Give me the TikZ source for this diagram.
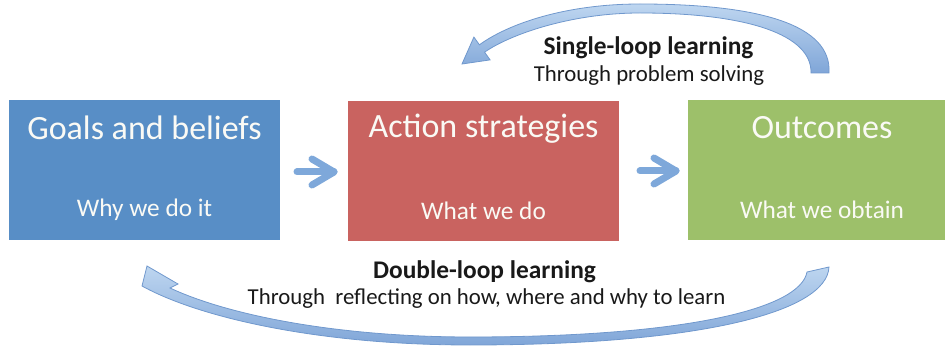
\documentclass[tikz,border=0pt]{standalone}
\usepackage{fontspec}
\setmainfont{Carlito}
\usetikzlibrary{calc}
\definecolor{bluebox}{RGB}{88,142,198}
\definecolor{redbox}{RGB}{201,99,96}
\definecolor{greenbox}{RGB}{157,192,106}
\definecolor{smallarr}{RGB}{126,168,218}
\definecolor{arrline}{RGB}{112,152,205}
\definecolor{arrlight}{RGB}{190,214,240}
\definecolor{arrdark}{RGB}{128,166,216}
\definecolor{boxtext}{RGB}{250,250,245}
\begin{document}
\begin{tikzpicture}[x=1pt,y=-1pt,
  box/.style={draw=none, inner sep=0pt, outer sep=0pt, minimum height=140pt},
  title/.style={text=boxtext, font=\fontsize{34}{38}\selectfont, inner sep=0pt},
  subtitle/.style={text=boxtext, font=\fontsize{25.3}{29}\selectfont, inner sep=0pt},
  looptitle/.style={text=black!90, font=\bfseries\fontsize{25.4}{29}\selectfont, inner sep=0pt},
  loopsub/.style={text=black!90, font=\fontsize{22.8}{27}\selectfont, inner sep=0pt},
  smallarrow/.style={draw=smallarr, line width=7pt, line cap=round, line join=round},
  bigarrow/.style={draw=arrline, line width=0.8pt, top color=arrlight, bottom color=arrdark}]
\useasboundingbox (0,0) rectangle (945,347);
% boxes
\node[box, fill=bluebox, minimum width=271pt] (goals) at (144.5,170) {};
\node[box, fill=redbox, minimum width=271pt] (action) at (483.5,171) {};
\node[box, fill=greenbox, minimum width=257pt] (outcomes) at (816.5,170) {};
% box texts
\node[title] (goalsT) at (144.5,128) {Goals and beliefs};
\node[subtitle] (goalsS) at (144.5,210) {Why we do it};
\node[title] (actionT) at (483.5,129) {Action strategies};
\node[subtitle] (actionS) at (483.5,211) {What we do};
\node[title] (outT) at (822,128) {Outcomes};
\node[subtitle] (outS) at (822,210) {What we obtain};
% small arrows
\coordinate (a1s) at ($(goals.east)+(17,2)$);
\coordinate (a1e) at ($(action.west)+(-14,1)$);
\draw[smallarrow] (a1s) -- (a1e);
\draw[smallarrow] ($(a1e)+(-22,-13)$) -- (a1e) -- ($(a1e)+(-22,13)$);
\coordinate (a2s) at ($(action.east)+(21,0)$);
\coordinate (a2e) at ($(outcomes.west)+(-12,1)$);
\draw[smallarrow] (a2s) -- (a2e);
\draw[smallarrow] ($(a2e)+(-22,-13)$) -- (a2e) -- ($(a2e)+(-22,13)$);
% single loop arrow
\path[bigarrow] (829,73) .. controls (832,25) and (760,4) .. (640,4)
  .. controls (565,4) and (508,24) .. (479.4,44.8) -- (473.9,37.1) -- (462,64)
  -- (490.1,59.9) -- (484.6,52.2) .. controls (509,35) and (570,13) .. (640,13)
  .. controls (748,13) and (812,35) .. (811,73) -- cycle;
% double loop arrow
\path[bigarrow] (829,267) .. controls (827,312) and (700,345) .. (470,345)
  .. controls (320,345) and (200,318) .. (142,286) -- (147,266) -- (178,284)
  -- (170,288) .. controls (230,316) and (340,337) .. (470,337)
  .. controls (680,337) and (800,310) .. (807,272) -- cycle;
% loop labels
\node[looptitle] (slT) at (648.5,48) {Single-loop learning};
\node[loopsub] (slS) at (649,76) {Through problem solving};
\node[looptitle] (dlT) at (484.5,272) {Double-loop learning};
\node[loopsub] (dlS) at (486.5,299) {Through\ \ reflecting on how, where and why to learn};
\end{tikzpicture}
\end{document}
